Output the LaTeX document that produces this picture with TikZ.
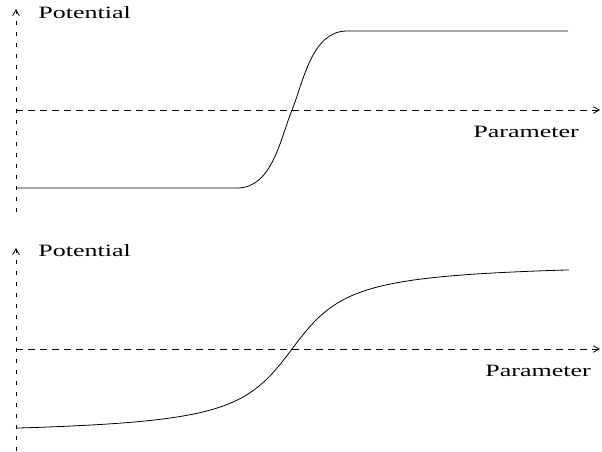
\documentclass[tikz,border=0pt]{standalone}
\usepackage{fontspec}
\setmainfont{Liberation Serif}
\usetikzlibrary{arrows.meta}

\begin{document}
\begin{tikzpicture}[x=0.75pt,y=-0.75pt,
  vaxis/.style={dash pattern=on 3pt off 5.25pt, line width=0.6pt},
  haxis/.style={dash pattern=on 5.25pt off 3.75pt, line width=0.6pt},
  tip/.style={-{Straight Barb[length=4.5pt,width=5pt,line width=0.6pt]}},
  curve/.style={line width=0.6pt},
  lbl/.style={font=\fontsize{13}{15}\selectfont, inner sep=0pt, xscale=1.5, transform shape}]
\useasboundingbox (0,0) rectangle (602,451);
%upper panel
\coordinate (ya) at (16,212);
\coordinate (yb) at (16,9);
\coordinate (xa) at (16,110);
\coordinate (xb) at (600,110);
\draw [vaxis,tip] (ya) -- (yb);
\draw [haxis,tip] (xa) -- (xb);
%Curve: steep step
\coordinate (sa) at (16,188);
\coordinate (sb) at (237,188);
\coordinate (sm) at (292,110);
\coordinate (sc) at (347,31);
\coordinate (sd) at (568,31);
\draw [curve] (sa) -- (sb) .. controls (272,188) and (280,140) .. (sm)
  .. controls (304,80) and (312,31) .. (sc) -- (sd);
% Text Node
\node [lbl, anchor=base west] (pot1) at (38,18) {Potential};
% Text Node
\node [lbl, anchor=base west] (par1) at (473,137) {Parameter};
%lower panel
\coordinate (yc) at (16,451);
\coordinate (yd) at (16,248);
\coordinate (xc) at (16,349);
\coordinate (xd) at (600,349);
\draw [vaxis,tip] (yc) -- (yd);
\draw [haxis,tip] (xc) -- (xd);
%Curve: smooth step
\draw [curve] plot [domain=16:569, samples=120] (\x, {349-0.972*atan((\x-292)/42)});
% Text Node
\node [lbl, anchor=base west] (pot2) at (38,256) {Potential};
% Text Node
\node [lbl, anchor=base west] (par2) at (485,376) {Parameter};
\end{tikzpicture}
\end{document}
